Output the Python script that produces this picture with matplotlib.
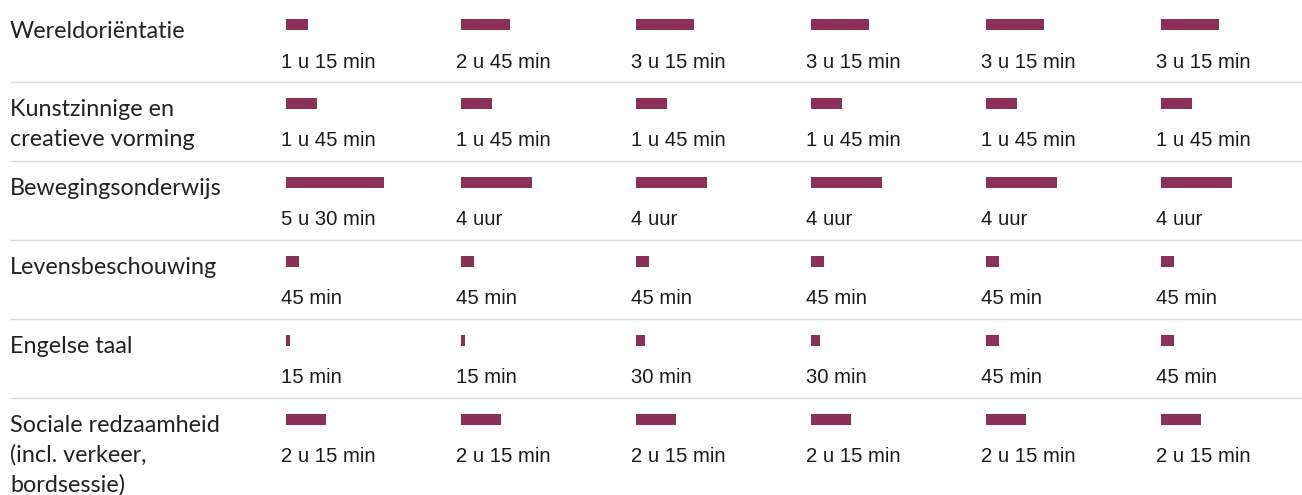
import matplotlib
matplotlib.use("Agg")
import matplotlib.pyplot as plt

# ---- data ----
subjects = [
    "Wereldoriëntatie",
    "Kunstzinnige en\ncreatieve vorming",
    "Bewegingsonderwijs",
    "Levensbeschouwing",
    "Engelse taal",
    "Sociale redzaamheid\n(incl. verkeer,\nbordsessie)",
]
wereld_min = [75, 165, 195, 195, 195, 195]
kunst_min = [105, 105, 105, 105, 105, 105]
beweging_min = [330, 240, 240, 240, 240, 240]
levens_min = [45, 45, 45, 45, 45, 45]
engels_min = [15, 15, 30, 30, 45, 45]
sociaal_min = [135, 135, 135, 135, 135, 135]

wereld_lbl = ["1 u 15 min", "2 u 45 min", "3 u 15 min", "3 u 15 min", "3 u 15 min", "3 u 15 min"]
kunst_lbl = ["1 u 45 min"] * 6
beweging_lbl = ["5 u 30 min", "4 uur", "4 uur", "4 uur", "4 uur", "4 uur"]
levens_lbl = ["45 min"] * 6
engels_lbl = ["15 min", "15 min", "30 min", "30 min", "45 min", "45 min"]
sociaal_lbl = ["2 u 15 min"] * 6

minutes = [wereld_min, kunst_min, beweging_min, levens_min, engels_min, sociaal_min]
labels = [wereld_lbl, kunst_lbl, beweging_lbl, levens_lbl, engels_lbl, sociaal_lbl]

# ---- layout ----
W, H = 1302, 495
row0, row_step = 24.5, 78.9
col0, col_step = 286, 175
px_per_min = 0.297
bar_h = 11
bar_color = "#8a3059"
label_line_step = 30

fig = plt.figure(figsize=(W / 100, H / 100), dpi=100)
ax = fig.add_axes([0, 0, 1, 1])
ax.set_xlim(0, W)
ax.set_ylim(H, 0)
ax.axis("off")

for i, (subj, mins, lbls) in enumerate(zip(subjects, minutes, labels)):
    yc = row0 + i * row_step
    lefts = [col0 + j * col_step for j in range(len(mins))]
    ax.barh([yc] * len(mins), [m * px_per_min for m in mins], left=lefts,
            height=bar_h, color=bar_color, edgecolor="none")
    for x, t in zip(lefts, lbls):
        ax.text(x - 5, yc + 43, t, fontsize=14.6, family="Liberation Sans",
                color="#1a1a1a", va="baseline", ha="left")
    for k, line in enumerate(subj.split("\n")):
        ax.text(10, yc + 13, line, fontsize=16.8,
                family="Lato", color="#222222", va="baseline", ha="left") if k == 0 else \
        ax.text(10, yc + 13 + k * label_line_step, line, fontsize=16.8,
                family="Lato", color="#222222", va="baseline", ha="left")
    if i < len(subjects) - 1:
        ax.hlines(yc + 57.5, 10, W, color="#dadada", lw=1)

fig.savefig("out.png", dpi=100)
